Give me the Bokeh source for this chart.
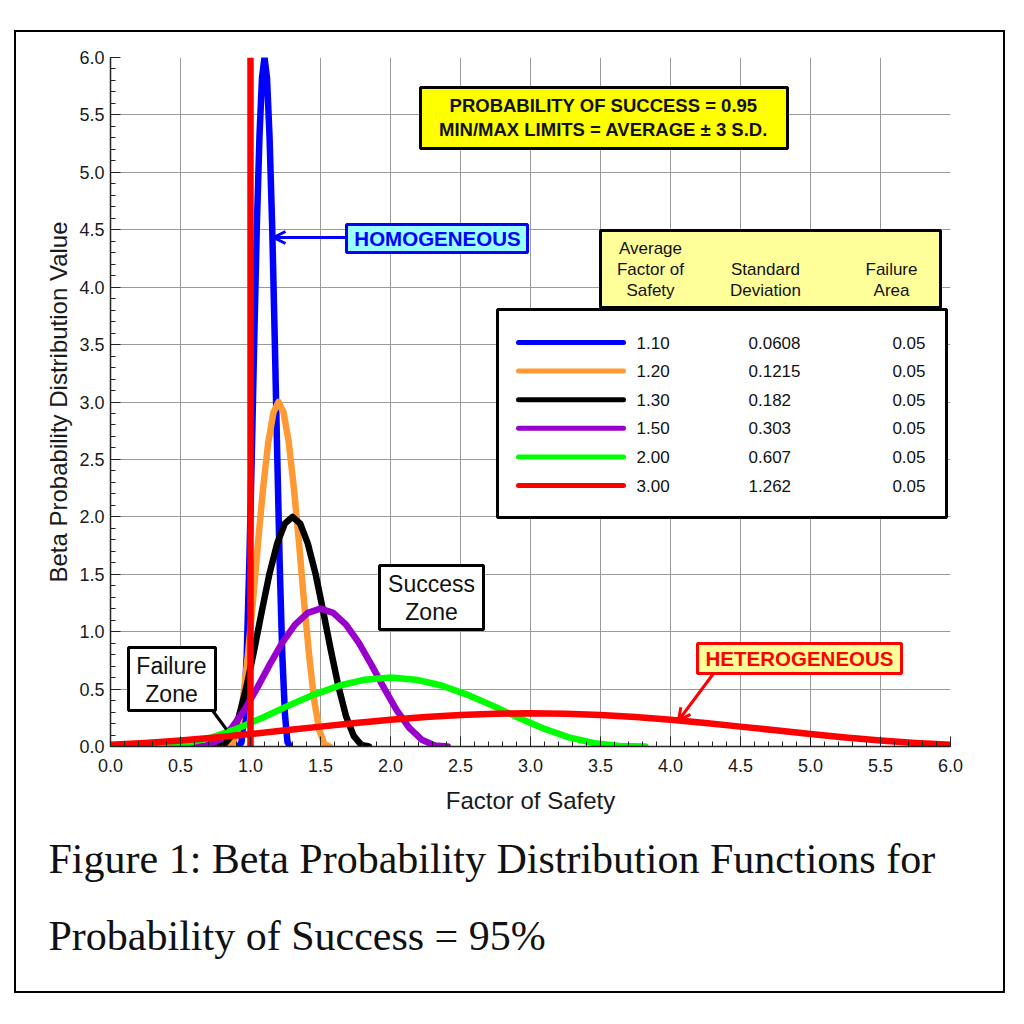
from bokeh.plotting import figure
from bokeh.models import Range1d, FixedTicker, NumeralTickFormatter, Label, BoxAnnotation, Arrow, OpenHead, Title
from bokeh.embed import file_html
from bokeh.resources import INLINE

# ---------------- data ----------------
mean_fs = ["1.10", "1.20", "1.30", "1.50", "2.00", "3.00"]
std_dev = ["0.0608", "0.1215", "0.182", "0.303", "0.607", "1.262"]
fail_area = ["0.05", "0.05", "0.05", "0.05", "0.05", "0.05"]
colors = ["#0000ff", "#ff9933", "#000000", "#9900cc", "#00ff00", "#ff0000"]

blue_x = [0.918, 0.936, 0.954, 0.973, 0.991, 1.009, 1.027, 1.045, 1.064, 1.082, 1.100,
          1.118, 1.136, 1.155, 1.173, 1.191, 1.209, 1.227, 1.246, 1.264, 1.282]
blue_y = [0.0, 0.04, 0.28, 0.80, 1.57, 2.53, 3.56, 4.52, 5.31, 5.82, 6.00,
          5.82, 5.31, 4.52, 3.56, 2.53, 1.57, 0.80, 0.28, 0.04, 0.0]

orange_x = [0.836, 0.872, 0.908, 0.945, 0.981, 1.018, 1.054, 1.091, 1.127, 1.164, 1.200,
            1.236, 1.273, 1.309, 1.346, 1.382, 1.419, 1.455, 1.492, 1.528, 1.565]
orange_y = [0.0, 0.02, 0.14, 0.40, 0.79, 1.27, 1.78, 2.26, 2.65, 2.91, 3.00,
            2.91, 2.65, 2.26, 1.78, 1.27, 0.79, 0.40, 0.14, 0.02, 0.0]

black_x = [0.754, 0.809, 0.863, 0.918, 0.972, 1.027, 1.082, 1.136, 1.191, 1.245, 1.300,
           1.355, 1.409, 1.464, 1.518, 1.573, 1.628, 1.682, 1.737, 1.791, 1.846]
black_y = [0.0, 0.014, 0.093, 0.265, 0.524, 0.844, 1.185, 1.507, 1.769, 1.941, 2.00,
           1.941, 1.769, 1.507, 1.185, 0.844, 0.524, 0.265, 0.093, 0.014, 0.0]

purple_x = [0.591, 0.682, 0.773, 0.864, 0.955, 1.046, 1.136, 1.227, 1.318, 1.409, 1.500,
            1.591, 1.682, 1.773, 1.864, 1.955, 2.045, 2.136, 2.227, 2.318, 2.409]
purple_y = [0.0, 0.008, 0.056, 0.159, 0.315, 0.506, 0.711, 0.904, 1.062, 1.164, 1.20,
            1.164, 1.062, 0.904, 0.711, 0.506, 0.315, 0.159, 0.056, 0.008, 0.0]

green_x = [0.179, 0.361, 0.543, 0.725, 0.907, 1.089, 1.271, 1.454, 1.636, 1.818, 2.000,
           2.182, 2.364, 2.546, 2.729, 2.911, 3.093, 3.275, 3.457, 3.639, 3.821]
green_y = [0.0, 0.004, 0.028, 0.080, 0.157, 0.253, 0.356, 0.452, 0.531, 0.582, 0.600,
           0.582, 0.531, 0.452, 0.356, 0.253, 0.157, 0.080, 0.028, 0.004, 0.0]

red_x = [0.0, 0.25, 0.5, 0.75, 1.0, 1.25, 1.5, 1.75, 2.0, 2.25, 2.5, 2.75, 3.0,
         3.25, 3.5, 3.75, 4.0, 4.25, 4.5, 4.75, 5.0, 5.25, 5.5, 5.75, 6.0]
red_y = [0.015, 0.031, 0.052, 0.078, 0.108, 0.141, 0.173, 0.204, 0.233, 0.256, 0.274, 0.285, 0.289,
         0.285, 0.274, 0.256, 0.233, 0.204, 0.173, 0.141, 0.108, 0.078, 0.052, 0.031, 0.015]

limit_x = [1.0, 1.0]
limit_y = [0.0, 6.0]

x_ticks = [0.0, 0.5, 1.0, 1.5, 2.0, 2.5, 3.0, 3.5, 4.0, 4.5, 5.0, 5.5, 6.0]
y_ticks = [0.0, 0.5, 1.0, 1.5, 2.0, 2.5, 3.0, 3.5, 4.0, 4.5, 5.0, 5.5, 6.0]
minor = [round(i * 0.1, 1) for i in range(61)]

caption_lines = ["Figure 1: Beta Probability Distribution Functions for",
                 "Probability of Success = 95%"]

SANS = "Liberation Sans"
SERIF = "Liberation Serif"

# ---------------- figure ----------------
p = figure(width=987, height=959, x_range=Range1d(0, 6), y_range=Range1d(0, 6),
           output_backend="svg", toolbar_location=None,
           min_border_left=94, min_border_right=53, min_border_top=25, min_border_bottom=245,
           margin=(32, 0, 0, 16),
           styles={"outline": "2.5px solid black", "outline-offset": "0px"})
p.outline_line_color = None
p.background_fill_color = "white"
p.border_fill_color = "white"

for ax, ticks in ((p.xaxis, x_ticks), (p.yaxis, y_ticks)):
    ax.ticker = FixedTicker(ticks=ticks, minor_ticks=minor)
    ax.formatter = NumeralTickFormatter(format="0.0")
    ax.major_tick_in = 10
    ax.major_tick_out = 0
    ax.minor_tick_in = 5
    ax.minor_tick_out = 0
    ax.axis_line_color = "#222222"
    ax.axis_line_width = 1.5
    ax.major_tick_line_color = "#222222"
    ax.minor_tick_line_color = "#222222"
    ax.major_label_text_font = SANS
    ax.major_label_text_font_size = "18px"
    ax.major_label_text_color = "#1a1a1a"
    ax.axis_label_text_font = SANS
    ax.axis_label_text_font_size = "24px"
    ax.axis_label_text_font_style = "normal"
    ax.axis_label_text_color = "#1a1a1a"

p.xaxis.axis_label = "Factor of Safety"
p.yaxis.axis_label = "Beta Probability Distribution Value"
p.xaxis.major_label_standoff = 12
p.yaxis.major_label_standoff = 6
p.xaxis.axis_label_standoff = 12
p.yaxis.axis_label_standoff = 4

p.grid.grid_line_color = "#9a9a9a"
p.grid.grid_line_width = 1

# caption below the axis
for i, line in enumerate(caption_lines):
    p.add_layout(Title(text=line, align="left", offset=-62, standoff=(34 if i == 0 else 24),
                       text_font=SERIF, text_font_size="42px", text_font_style="normal",
                       text_color="#111111"), "below")

# ---------------- curves ----------------
series = [(blue_x, blue_y), (orange_x, orange_y), (black_x, black_y),
          (purple_x, purple_y), (green_x, green_y), (red_x, red_y)]
for (xs, ys), c in zip(series, colors):
    p.line(xs, ys, line_color=c, line_width=6.5, line_cap="round", line_join="round")
p.line(limit_x, limit_y, line_color="#ff0000", line_width=6.5, line_cap="butt")

# ---------------- helpers: page pixel -> data ----------------
def X(px):
    return (px - 110) / 140.0

def Y(py):
    return (746 - py) / (689 / 6.0)

def box(l, t, r, b, fill, line="black", lw=3):
    p.add_layout(BoxAnnotation(left=X(l), right=X(r), top=Y(t), bottom=Y(b),
                               fill_color=fill, fill_alpha=1 if fill else 0,
                               line_color=line, line_width=lw, line_alpha=1))

def label(px, py, text, size, align="center", color="#111111", style="normal", font=SANS):
    p.add_layout(Label(x=X(px), y=Y(py), text=text, text_align=align, text_baseline="middle",
                       text_font=font, text_font_size=size, text_color=color,
                       text_font_style=style))

# probability box
box(420, 87, 787, 148, "#ffff00")
label(603, 105, "PROBABILITY OF SUCCESS = 0.95", "18.5px", style="bold")
label(603, 129, "MIN/MAX LIMITS = AVERAGE ± 3 S.D.", "18.5px", style="bold")

# homogeneous
box(346, 224, 527, 252, "#99ffff", "#0000ff", 3)
label(437, 238, "HOMOGENEOUS", "20.5px", color="#0000ff", style="bold")
p.add_layout(Arrow(end=OpenHead(size=12, line_color="#0000ff", line_width=3),
                   x_start=X(346), y_start=Y(237), x_end=X(273), y_end=Y(237),
                   line_color="#0000ff", line_width=3))

# heterogeneous
box(697, 643, 901, 673, "#ffff99", "#ff0000", 3)
label(799, 658, "HETEROGENEOUS", "20.5px", color="#ff0000", style="bold")
p.add_layout(Arrow(end=OpenHead(size=12, line_color="#ff0000", line_width=3),
                   x_start=X(713), y_start=Y(673), x_end=X(678), y_end=Y(720),
                   line_color="#ff0000", line_width=3))

# failure zone
box(128, 647, 215, 710, "white")
label(171, 665, "Failure", "23px")
label(171, 693, "Zone", "23px")
p.add_layout(Arrow(end=None, x_start=X(212), y_start=Y(710), x_end=X(226), y_end=Y(729),
                   line_color="black", line_width=3))

# success zone
box(379, 565, 483, 629, "white")
label(431, 583, "Success", "23px")
label(431, 611, "Zone", "23px")

# legend header
box(600, 230, 940, 307, "#ffff99")
label(650, 248, "Average", "17px")
label(650, 269, "Factor of", "17px")
label(650, 290, "Safety", "17px")
label(765, 269, "Standard", "17px")
label(765, 290, "Deviation", "17px")
label(891, 269, "Failure", "17px")
label(891, 290, "Area", "17px")

# legend body
box(497, 309, 946, 517, "white")
for i in range(len(mean_fs)):
    ry = 342 + i * 28.6
    p.line([X(518), X(623)], [Y(ry), Y(ry)], line_color=colors[i], line_width=5,
           line_cap="round", level="overlay")
    label(636, ry, mean_fs[i], "17px", align="left")
    label(748, ry, std_dev[i], "17px", align="left")
    label(925, ry, fail_area[i], "17px", align="right")

open("out.html", "w").write(file_html(p, INLINE))
